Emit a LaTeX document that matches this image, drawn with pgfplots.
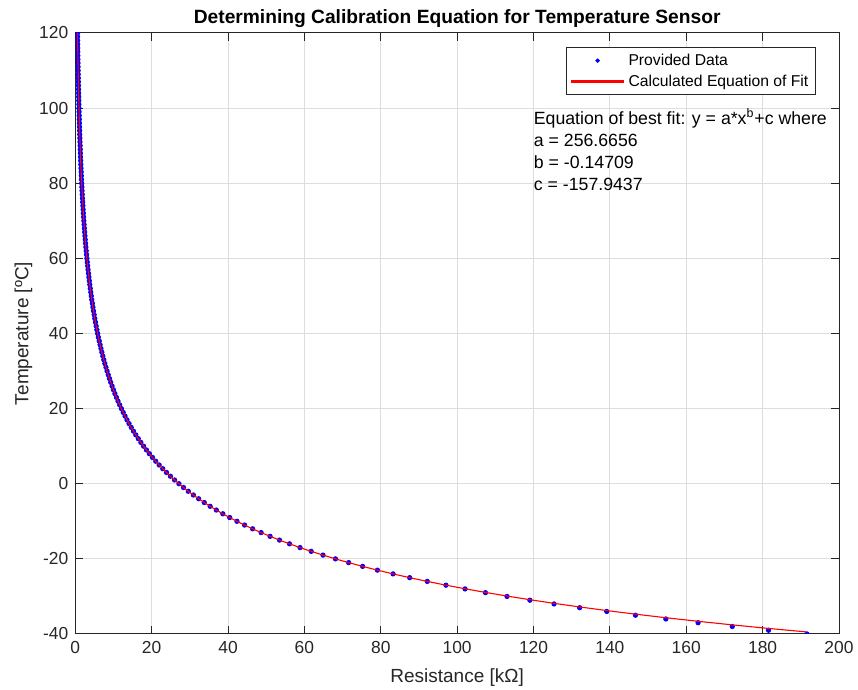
\documentclass[border=0pt]{standalone}
\usepackage{fontspec}
\setmainfont{Liberation Sans}
\usepackage{pgfplots}
\usepackage{pgfplotstable}
\pgfplotsset{compat=1.18}

\definecolor{axgray}{rgb}{0.15,0.15,0.15}
\definecolor{gridgray}{rgb}{0.87,0.87,0.87}

\pgfplotsset{
    dotlegend/.style={legend image code/.code={\fill[##1] (13pt,0pt) circle (0.9pt);}},
    fitlegend/.style={legend image code/.code={\fill[##1, fill=red] (0pt,-0.28pt) rectangle (26pt,0.28pt);}},
}

% R in kOhm, T = provided temperature, F = value of the fitted curve at R
\pgfplotstableread{
R T F
191.60 -40 -39.46
181.54 -39 -38.52
172.05 -38 -37.57
163.10 -37 -36.62
154.66 -36 -35.67
146.70 -35 -34.72
139.18 -34 -33.76
132.08 -33 -32.80
125.38 -32 -31.84
119.05 -31 -30.87
113.07 -30 -29.90
107.41 -29 -28.93
102.07 -28 -27.96
97.07 -27 -27
92.18 -26 -26
87.57 -25 -25
83.22 -24 -24
79.12 -23 -23
75.24 -22 -22
71.59 -21 -21
68.13 -20 -20
64.87 -19 -19
61.78 -18 -18
58.86 -17 -17
56.10 -16 -16
53.48 -15 -15
51.01 -14 -14
48.66 -13 -13
46.44 -12 -12
44.33 -11 -11
42.34 -10 -10
40.44 -9 -9
38.64 -8 -8
36.93 -7 -7
35.31 -6 -6
33.77 -5 -5
32.31 -4 -4
30.92 -3 -3
29.59 -2 -2
28.34 -1 -1
27.14 0 0
26.00 1 1
24.91 2 2
23.88 3 3
22.90 4 4
21.96 5 5
21.06 6 6
20.21 7 7
19.40 8 8
18.62 9 9
17.88 10 10
17.17 11 11
16.50 12 12
15.85 13 13
15.23 14 14
14.65 15 15
14.08 16 16
13.54 17 17
13.03 18 18
12.54 19 19
12.07 20 20
11.61 21 21
11.18 22 22
10.77 23 23
10.37 24 24
9.99 25 25
9.63 26 26
9.28 27 27
8.95 28 28
8.63 29 29
8.32 30 30
8.03 31 31
7.74 32 32
7.47 33 33
7.21 34 34
6.96 35 35
6.72 36 36
6.49 37 37
6.27 38 38
6.04 39 39
5.85 40 40
5.65 41 41
5.46 42 42
5.28 43 43
5.10 44 44
4.94 45 45
4.77 46 46
4.62 47 47
4.47 48 48
4.32 49 49
4.18 50 50
4.05 51 51
3.92 52 52
3.80 53 53
3.68 54 54
3.56 55 55
3.45 56 56
3.34 57 57
3.24 58 58
3.14 59 59
3.04 60 60
2.947 61 61
2.857 62 62
2.770 63 63
2.686 64 64
2.606 65 65
2.527 66 66
2.452 67 67
2.379 68 68
2.309 69 69
2.241 70 70
2.175 71 71
2.112 72 72
2.050 73 73
1.991 74 74
1.933 75 75
1.878 76 76
1.824 77 77
1.772 78 78
1.722 79 79
1.674 80 80
1.627 81 81
1.581 82 82
1.537 83 83
1.494 84 84
1.453 85 85
1.413 86 86
1.374 87 87
1.337 88 88
1.300 89 89
1.265 90 90
1.231 91 91
1.198 92 92
1.166 93 93
1.135 94 94
1.104 95 95
1.075 96 96
1.047 97 97
1.019 98 98
0.993 99 99
0.967 100 100
0.942 101 101
0.917 102 102
0.894 103 103
0.871 104 104
0.849 105 105
0.827 106 106
0.806 107 107
0.786 108 108
0.766 109 109
0.747 110 110
0.728 111 111
0.710 112 112
0.692 113 113
0.675 114 114
0.658 115 115
0.642 116 116
0.626 117 117
0.611 118 118
0.596 119 119
0.582 120 120
}\datatable

\begin{document}
\begin{tikzpicture}
\begin{axis}[
    scale only axis,
    width=381.85pt, height=300.5pt,
    xmin=0, xmax=200, ymin=-40, ymax=120,
    xtick={0,20,...,200}, ytick={-40,-20,...,120},
    grid=major,
    major grid style={gridgray, line width=0.5pt},
    axis line style={axgray, line width=0.5pt},
    tick style={axgray, line width=0.5pt},
    major tick length=4pt,
    tick align=inside,
    tick pos=both,
    clip marker paths=true,
    /pgf/number format/assume math mode=true,
    ticklabel style={font=\fontsize{8.7}{10}\selectfont, text=axgray},
    xlabel={Resistance [kΩ]},
    ylabel={Temperature [ºC]},
    label style={font=\fontsize{9.5}{11}\selectfont, text=axgray},
    xlabel style={at={(axis description cs:0.5,-0.0815)}, anchor=base},
    ylabel style={at={(axis description cs:-0.0615,0.5)}, anchor=base},
    legend cell align=left,
    legend style={at={(axis description cs:0.970,0.977)}, anchor=north east,
        draw=axgray, line width=0.4pt, fill=white,
        font=\fontsize{7.85}{9}\selectfont,
        inner xsep=2.5pt, inner ysep=1.5pt, column sep=1pt,
        nodes={inner xsep=1.2pt, inner ysep=0.6pt, text height=0.72em, text depth=0.2em}},
]
\addplot[only marks, mark=*, mark size=1.1pt, color=blue,
    mark options={draw=none, fill=blue}, dotlegend]
    table[x=R, y=T] {\datatable};
\addlegendentry{Provided Data}
\addplot[color=red, line width=0.55pt, no marks, fitlegend]
    table[x=R, y=F] {\datatable};
\addlegendentry{Calculated Equation of Fit}

\node[anchor=west, align=left, inner sep=0pt, text=black,
    font=\fontsize{8.85}{11}\selectfont] at (axis cs:120,89)
    {Equation of best fit: y = a*x\textsuperscript{b}+c where\\
     a = 256.6656\\
     b = -0.14709\\
     c = -157.9437};
\end{axis}
\node[anchor=base, font=\bfseries\fontsize{9.6}{11}\selectfont, text=black]
    at ([yshift=4.75pt]current axis.north)
    {Determining Calibration Equation for Temperature Sensor};
\pgfresetboundingbox
\path ([xshift=-37.65pt,yshift=-28pt]current axis.south west)
    rectangle ([xshift=9.5pt,yshift=16.5pt]current axis.north east);
\end{tikzpicture}
\end{document}
